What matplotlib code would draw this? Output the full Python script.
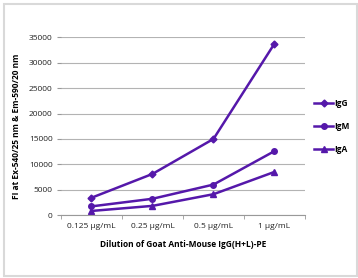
import matplotlib
matplotlib.use("Agg")
import matplotlib.pyplot as plt
from matplotlib.patches import Rectangle

categories = ["0.125 µg/mL", "0.25 µg/mL", "0.5 µg/mL", "1 µg/mL"]
igg = [3400, 8100, 15000, 33800]
igm = [1700, 3200, 6000, 12600]
iga = [800, 1800, 4100, 8500]
yticks = [0, 5000, 10000, 15000, 20000, 25000, 30000, 35000]

plt.rcParams['font.family'] = ['Open Sans', 'DejaVu Sans']
color = '#5518aa'

fig = plt.figure(figsize=(3.58, 2.78), dpi=100)
fig.patches.append(Rectangle((4/358, 2/278), 353/358, 272/278, transform=fig.transFigure,
                             fill=False, edgecolor='#d9d9d9', linewidth=1.5))
ax = fig.add_axes([61/358, 1 - 215/278, 244/358, 177.5/278])

x = list(range(len(categories)))
ax.plot(x, igg, color=color, lw=1.8, marker='D', ms=3.5, label='IgG')
ax.plot(x, igm, color=color, lw=1.8, marker='o', ms=4, label='IgM')
ax.plot(x, iga, color=color, lw=1.8, marker='^', ms=4.5, label='IgA')

ax.set_xlim(-0.5, len(categories) - 0.5)
ax.set_ylim(0, 35000)
ax.set_yticks(yticks)
ax.set_yticklabels([str(v) for v in yticks])
ax.set_xticks(x)
ax.set_xticklabels(categories)
ax.set_xticks([i - 0.5 for i in range(len(categories) + 1)], minor=True)
ax.tick_params(axis='x', which='major', length=0, labelsize=6, pad=6, colors='#222222')
ax.tick_params(axis='x', which='minor', length=3, color='#999999', direction='out')
ax.tick_params(axis='y', length=3, color='#999999', labelsize=6, pad=3, colors='#222222')
ax.tick_params(axis='y', colors='#999999', labelcolor='#222222')
ax.grid(axis='y', color='#b3b3b3', lw=0.8)
ax.set_axisbelow(True)
for s in ['top', 'right']:
    ax.spines[s].set_visible(False)
ax.spines['left'].set_visible(False)
ax.spines['bottom'].set_color('#999999')

ax.set_xlabel("Dilution of Goat Anti-Mouse IgG(H+L)-PE", fontsize=6, fontweight='bold', labelpad=7)
ax.set_ylabel("FI at Ex-540/25 nm & Em-590/20 nm", fontsize=6, fontweight='bold', labelpad=6)

leg = ax.legend(loc='upper left', bbox_to_anchor=(1.025, 0.675), frameon=False, fontsize=6,
                handlelength=2.2, labelspacing=1.7, handletextpad=0.2, borderaxespad=0)
for t in leg.get_texts():
    t.set_fontweight('bold')

fig.savefig("out.png", dpi=100)
